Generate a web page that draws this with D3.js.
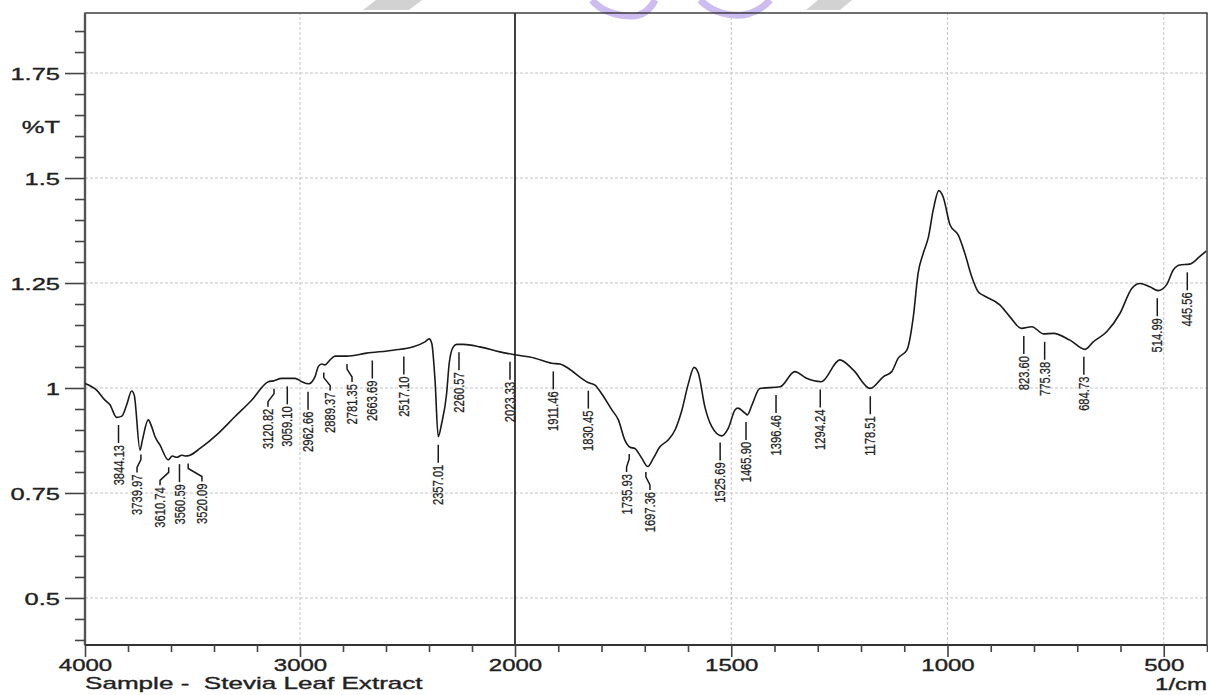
<!DOCTYPE html>
<html>
<head>
<meta charset="utf-8">
<script src="https://cdn.jsdelivr.net/npm/d3@7"></script>
<style type="text/css">
	body {
		margin: 0;
		background-color: #ffffff;
	}
	svg text {
		font-family: "Liberation Sans", Arial, sans-serif;
		fill: #222;
	}
	.axis path {
		display: none;
	}
	.axis line {
		stroke: #444;
		stroke-width: 1.6;
	}
	.rotulo {
		stroke: #222;
		stroke-width: 0.35px;
	}
	.picolabel {
		font-size: 14px;
		stroke: #222;
		stroke-width: 0.25px;
	}
</style>
</head>
<body>
<div id="grafica"></div>
<script type="text/javascript">

	// espectro FTIR (1/cm , %T)
	const wavenumber = [4000, 3946, 3907, 3884, 3853, 3829, 3806, 3783, 3771, 3744,
		3733, 3706, 3690, 3674, 3651, 3613, 3594, 3573, 3550, 3535,
		3512, 3465, 3380, 3302, 3225, 3147, 3124, 3085, 3023, 2992,
		2960, 2930, 2915, 2899, 2884, 2860, 2837, 2783, 2690, 2566,
		2473, 2419, 2399, 2387, 2372, 2357, 2341, 2318, 2306, 2287,
		2271, 2240, 2163, 2070, 2000, 1954, 1915, 1896, 1877, 1846,
		1831, 1815, 1800, 1776, 1761, 1746, 1734, 1723, 1707, 1693,
		1680, 1665, 1646, 1630, 1615, 1599, 1586, 1576, 1561, 1545,
		1522, 1507, 1491, 1485, 1468, 1463, 1452, 1434, 1387, 1353,
		1326, 1292, 1249, 1218, 1179, 1148, 1129, 1114, 1094, 1079,
		1068, 1056, 1044, 1033, 1020, 1010, 994, 975, 960, 944,
		929, 918, 879, 856, 829, 805, 778, 755, 717, 682,
		663, 632, 601, 574, 555, 532, 513, 494, 478, 463,
		440, 417, 402];
	const transmittance = [1.011, 0.995, 0.971, 0.960, 0.930, 0.933, 0.960, 0.993, 0.983, 0.852,
		0.876, 0.924, 0.908, 0.884, 0.864, 0.829, 0.838, 0.835, 0.840, 0.838,
		0.840, 0.856, 0.892, 0.932, 0.971, 1.015, 1.017, 1.023, 1.023, 1.015,
		1.010, 1.027, 1.051, 1.057, 1.055, 1.067, 1.076, 1.076, 1.083, 1.090,
		1.098, 1.110, 1.117, 1.106, 1.019, 0.884, 0.916, 0.987, 1.059, 1.098,
		1.104, 1.104, 1.098, 1.086, 1.079, 1.071, 1.059, 1.057, 1.047, 1.023,
		1.013, 1.007, 0.987, 0.948, 0.924, 0.876, 0.859, 0.856, 0.833, 0.813,
		0.833, 0.860, 0.876, 0.900, 0.944, 1.011, 1.049, 1.035, 0.955, 0.908,
		0.886, 0.904, 0.948, 0.952, 0.940, 0.936, 0.960, 0.999, 1.003, 1.039,
		1.023, 1.015, 1.067, 1.043, 0.999, 1.027, 1.039, 1.071, 1.090, 1.170,
		1.273, 1.321, 1.360, 1.424, 1.470, 1.455, 1.388, 1.364, 1.321, 1.265,
		1.229, 1.221, 1.198, 1.170, 1.142, 1.146, 1.129, 1.130, 1.114, 1.092,
		1.110, 1.134, 1.178, 1.237, 1.249, 1.241, 1.232, 1.245, 1.281, 1.293,
		1.295, 1.313, 1.326];

	// picos marcados
	const peakWn = [3844.13, 3739.97, 3610.74, 3560.59, 3520.09, 3120.82, 3059.10, 2962.66, 2889.37, 2781.35,
		2663.69, 2517.10, 2357.01, 2260.57, 2023.33, 1911.46, 1830.45, 1735.93, 1697.36, 1525.69,
		1465.90, 1396.46, 1294.24, 1178.51, 823.60, 775.38, 684.73, 514.99, 445.56];
	// donde queda la etiqueta (algunas se corren para no encimarse)
	const labelWn = [3844.13, 3758, 3651, 3560.59, 3456, 3149, 3059.10, 2962.66, 2860, 2758,
		2663.69, 2517.10, 2357.01, 2260.57, 2023.33, 1911.46, 1830.45, 1742, 1688, 1525.69,
		1465.90, 1396.46, 1294.24, 1178.51, 823.60, 775.38, 684.73, 514.99, 445.56];

	const xMajor = [4000, 3000, 2000, 1500, 1000, 500];
	const xMinor = d3.range(4000, 2000, -200).concat(d3.range(2000, 399, -100));
	const yTicks = d3.range(8, 38).map(i => i * 0.05);
	const yMajor = [0.5, 0.75, 1, 1.25, 1.5, 1.75];

	const width = 1208, height = 695;
	const svg = d3.select("#grafica").append("svg")
		.attr("width", width)
		.attr("height", height);

	// escala x partida en 2000 (como en el equipo)
	const x = d3.scaleLinear().domain([4000, 2000, 400]).range([85, 515, 1207]);
	const y = d3.scaleLinear().domain([0.388, 1.893]).range([645, 13]);

	const stretch = "scale(1.5,1)";

	// marca de agua de la hoja (arriba)
	svg.append("path")
		.attr("d", "M363,10 L376,0 L422,0 L409,10 Z")
		.style("fill", "#d2d2d2");
	svg.append("path")
		.attr("d", "M806,10 L818,0 L852,0 L840,10 Z")
		.style("fill", "#d2d2d2");
	svg.append("path")
		.attr("d", "M592,0 C600,10 615,16 632,16 C642,16 650,10 655,0")
		.style("fill", "none").style("stroke", "#cdbcf0").style("stroke-width", 7);
	svg.append("path")
		.attr("d", "M700,0 C712,12 730,18 748,14 C758,11 765,6 770,0")
		.style("fill", "none").style("stroke", "#cdbcf0").style("stroke-width", 7);

	// rejilla
	svg.append("g").selectAll("line")
		.data(yMajor)
		.join("line")
		.attr("x1", x(4000)).attr("x2", x(400))
		.attr("y1", d => y(d)).attr("y2", d => y(d))
		.style("stroke", "#c4c4c4").style("stroke-width", 1).style("stroke-dasharray", "3,2");

	svg.append("g").selectAll("line")
		.data([3000, 1500, 1000, 500])
		.join("line")
		.attr("x1", d => x(d)).attr("x2", d => x(d))
		.attr("y1", y.range()[0]).attr("y2", y.range()[1])
		.style("stroke", "#c4c4c4").style("stroke-width", 1).style("stroke-dasharray", "3,2");

	// linea negra en 2000
	svg.append("line")
		.attr("x1", x(2000)).attr("x2", x(2000))
		.attr("y1", y.range()[0]).attr("y2", y.range()[1])
		.style("stroke", "#111").style("stroke-width", 1.6);

	// marco
	svg.append("rect")
		.attr("x", x(4000)).attr("y", y.range()[1])
		.attr("width", x(400) - x(4000)).attr("height", y.range()[0] - y.range()[1])
		.style("fill", "none").style("stroke", "#333").style("stroke-width", 1.4);
	svg.append("line")
		.attr("x1", x(4000)).attr("x2", x(4000))
		.attr("y1", y.range()[0]).attr("y2", y.range()[1])
		.style("stroke", "#555").style("stroke-width", 2.4);
	svg.append("line")
		.attr("x1", x(4000)).attr("x2", x(400))
		.attr("y1", y.range()[0]).attr("y2", y.range()[0])
		.style("stroke", "#333").style("stroke-width", 2);

	// eje y
	const yAxis = svg.append("g")
		.attr("class", "axis")
		.attr("transform", `translate(${x(4000)},0)`)
		.call(d3.axisLeft(y).tickValues(yTicks).tickSize(10)
			.tickFormat(d => yMajor.some(m => Math.abs(m - d) < 1e-6) ? String(+d.toFixed(2)) : ""));
	yAxis.selectAll(".tick")
		.filter(d => yMajor.some(m => Math.abs(m - d) < 1e-6))
		.select("line").attr("x2", -20);
	yAxis.selectAll("text")
		.attr("class", "rotulo")
		.attr("x", 0).attr("dy", "0.36em")
		.attr("transform", "translate(-25,0) " + stretch)
		.style("font-size", "17px").style("fill", "#222");

	svg.append("text")
		.attr("class", "rotulo")
		.attr("transform", `translate(60,133) ${stretch}`)
		.attr("text-anchor", "end")
		.style("font-size", "17px")
		.text("%T");

	// eje x
	const xAxis = svg.append("g")
		.attr("class", "axis")
		.attr("transform", `translate(0,${y.range()[0]})`)
		.call(d3.axisBottom(x).tickValues(xMinor).tickSize(7)
			.tickFormat(d => xMajor.includes(d) ? String(d) : ""));
	xAxis.selectAll(".tick")
		.filter(d => xMajor.includes(d))
		.select("line").attr("y2", 12);
	xAxis.selectAll("text")
		.attr("class", "rotulo")
		.attr("y", 0).attr("dy", 0)
		.attr("transform", "translate(0,26) " + stretch)
		.style("font-size", "16px").style("fill", "#222");

	svg.append("text")
		.attr("class", "rotulo")
		.attr("transform", `translate(${x(4000)},689) scale(1.63,1)`)
		.style("font-size", "16px")
		.style("white-space", "pre")
		.text("Sample -  Stevia Leaf Extract");

	svg.append("text")
		.attr("class", "rotulo")
		.attr("transform", `translate(${x(400)},690) ${stretch}`)
		.attr("text-anchor", "end")
		.style("font-size", "16px")
		.text("1/cm");

	// espectro
	const linea = d3.line()
		.x((d, i) => x(wavenumber[i]))
		.y(d => y(d))
		.curve(d3.curveMonotoneX);

	svg.append("path")
		.datum(transmittance)
		.attr("d", linea)
		.style("fill", "none")
		.style("stroke", "#1a1a1a")
		.style("stroke-width", 1.6);

	// valor de la curva en un numero de onda
	function curvaEn(w) {
		for (let i = 0; i < wavenumber.length - 1; i++) {
			if (wavenumber[i] >= w && wavenumber[i + 1] <= w) {
				let t = (wavenumber[i] - w) / (wavenumber[i] - wavenumber[i + 1]);
				return transmittance[i] + t * (transmittance[i + 1] - transmittance[i]);
			}
		}
		return transmittance[transmittance.length - 1];
	}

	const fmt = d3.format(".2f");
	const picos = svg.append("g");

	peakWn.forEach((w, i) => {
		let xp = x(w);
		let xl = x(labelWn[i]);
		let y0 = y(curvaEn(w)) + 8;
		let pts = xp === xl
			? [[xp, y0], [xl, y0 + 18]]
			: [[xp, y0], [xp, y0 + 5], [xl, y0 + 13], [xl, y0 + 18]];

		picos.append("path")
			.attr("d", d3.line()(pts))
			.style("fill", "none")
			.style("stroke", "#1a1a1a")
			.style("stroke-width", 1.5);

		picos.append("text")
			.attr("class", "picolabel")
			.attr("transform", `translate(${xl},${y0 + 20}) rotate(-90) scale(0.8,1)`)
			.attr("text-anchor", "end")
			.attr("dy", "0.36em")
			.text(fmt(w));
	});

</script>
</body>
</html>
